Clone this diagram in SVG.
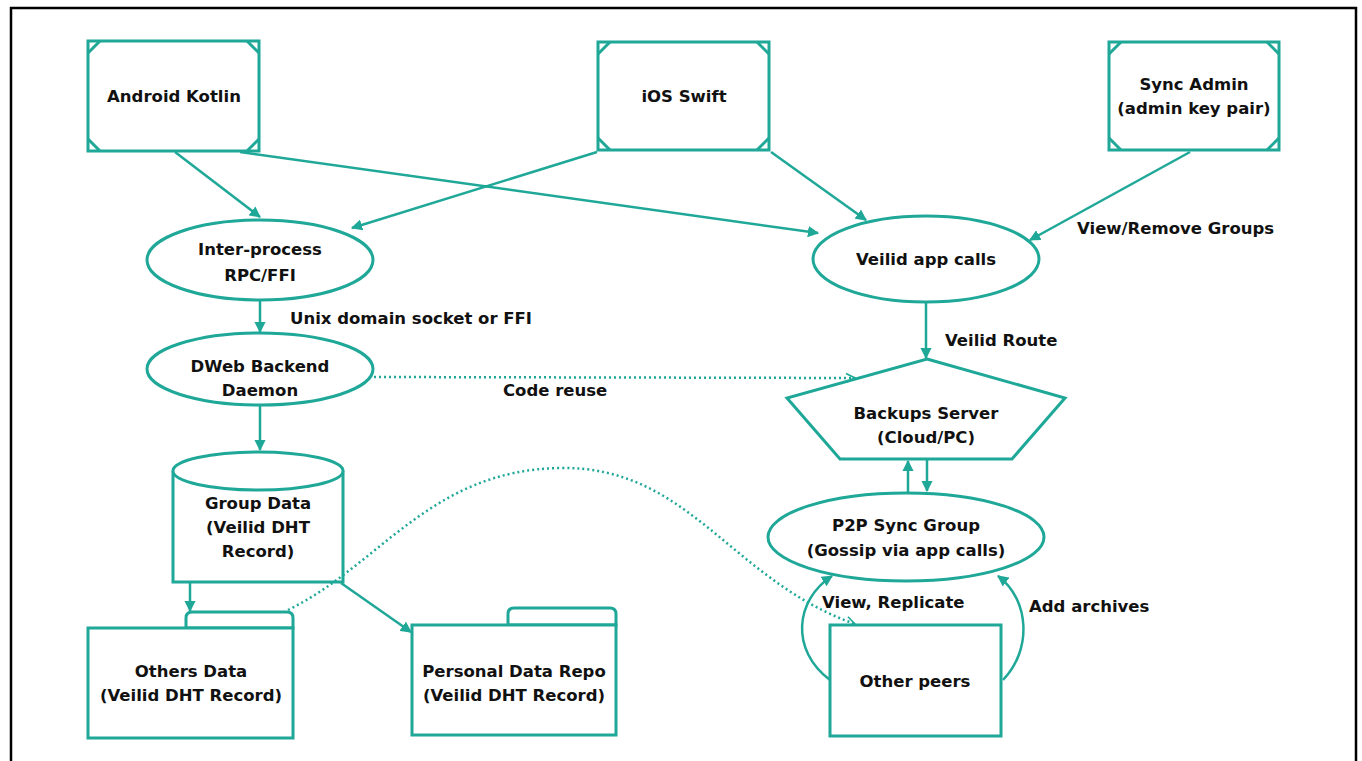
<svg xmlns="http://www.w3.org/2000/svg" width="1362" height="761" viewBox="0 0 1362 761">
<style>
.sh{fill:#fff;stroke:#1fa898;stroke-width:3}
.nt{fill:none;stroke:#1fa898;stroke-width:3}
.t{font-family:"DejaVu Sans","Liberation Sans",sans-serif;font-weight:700;font-size:16.5px;fill:#111;text-anchor:middle}
.l{font-family:"DejaVu Sans","Liberation Sans",sans-serif;font-weight:700;font-size:16.5px;fill:#111}
.c{fill:none;stroke:#1fa898;stroke-width:2.5}
.d{fill:none;stroke:#1fa898;stroke-width:2.5;stroke-dasharray:2 3}
</style>
<defs>
<marker id="a" viewBox="0 0 10 10" refX="9" refY="5" markerWidth="4.5" markerHeight="4.5" orient="auto" markerUnits="strokeWidth">
<path d="M0,0 L10,5 L0,10 z" fill="#1fa898"/>
</marker>
<marker id="o" viewBox="0 0 10 10" refX="9" refY="5" markerWidth="4.5" markerHeight="4.5" orient="auto" markerUnits="strokeWidth">
<path d="M1,1 L9,5 L1,9" fill="none" stroke="#1fa898" stroke-width="1.5"/>
</marker>
</defs>
<rect width="1362" height="761" fill="#fff"/>
<path d="M11,761 V8 H1356 V761" fill="none" stroke="#000" stroke-width="2.5"/>

<g id="android">
<rect class="sh" x="88" y="41" width="171" height="110"/>
<path class="nt" d="M88,53 L100,41 M247,41 L259,53 M88,139 L100,151 M247,151 L259,139"/>
<text class="t" x="174" y="102">Android Kotlin</text>
</g>
<g id="ios">
<rect class="sh" x="598" y="42" width="171" height="108"/>
<path class="nt" d="M598,54 L610,42 M757,42 L769,54 M598,138 L610,150 M757,150 L769,138"/>
<text class="t" x="684" y="102">iOS Swift</text>
</g>
<g id="syncadmin">
<rect class="sh" x="1109" y="42" width="170" height="108"/>
<path class="nt" d="M1109,54 L1121,42 M1267,42 L1279,54 M1109,138 L1121,150 M1267,150 L1279,138"/>
<text class="t" x="1194" y="90">Sync Admin</text>
<text class="t" x="1194" y="114">(admin key pair)</text>
</g>
<g id="interprocess">
<ellipse class="sh" cx="260" cy="260" rx="113" ry="40"/>
<text class="t" x="260" y="255">Inter-process</text>
<text class="t" x="260" y="281">RPC/FFI</text>
</g>
<g id="dweb">
<ellipse class="sh" cx="260" cy="369" rx="113" ry="36"/>
<text class="t" x="260" y="372">DWeb Backend</text>
<text class="t" x="260" y="396">Daemon</text>
</g>
<g id="veilidapp">
<ellipse class="sh" cx="926" cy="259" rx="113" ry="43"/>
<text class="t" x="926" y="265">Veilid app calls</text>
</g>
<g id="backups">
<polygon class="sh" points="927,359 1065,398 1012,459 840,459 787,398"/>
<text class="t" x="926" y="419">Backups Server</text>
<text class="t" x="926" y="443">(Cloud/PC)</text>
</g>
<g id="p2p">
<ellipse class="sh" cx="906" cy="537" rx="138" ry="44"/>
<text class="t" x="906" y="531">P2P Sync Group</text>
<text class="t" x="906" y="556">(Gossip via app calls)</text>
</g>
<g id="otherpeers">
<rect class="sh" x="830" y="625" width="171" height="111"/>
<text class="t" x="915" y="687">Other peers</text>
</g>
<g id="groupdata">
<path class="sh" d="M173,471 V582 H343 V471"/>
<ellipse class="sh" cx="258" cy="471" rx="85" ry="19"/>
<text class="t" x="258" y="509">Group Data</text>
<text class="t" x="258" y="533">(Veilid DHT</text>
<text class="t" x="258" y="557">Record)</text>
</g>
<g id="othersdata">
<path class="sh" d="M186,628 V618 Q186,612 192,612 H287 Q293,612 293,618 V628 Z"/>
<rect class="sh" x="88" y="628" width="205" height="110"/>
<text class="t" x="191" y="677">Others Data</text>
<text class="t" x="191" y="701">(Veilid DHT Record)</text>
</g>
<g id="personaldata">
<path class="sh" d="M508,625 V614 Q508,608 514,608 H610 Q616,608 616,614 V625 Z"/>
<rect class="sh" x="412" y="625" width="204" height="110"/>
<text class="t" x="514" y="677">Personal Data Repo</text>
<text class="t" x="514" y="701">(Veilid DHT Record)</text>
</g>

<g id="connectors">
<path class="c" d="M175,152 L260,217" marker-end="url(#a)"/>
<path class="c" d="M240,152 L818,233" marker-end="url(#a)"/>
<path class="c" d="M597,152 L352,228" marker-end="url(#a)"/>
<path class="c" d="M771,152 L866,220" marker-end="url(#a)"/>
<path class="c" d="M1190,152 L1030,240" marker-end="url(#a)"/>
<path class="c" d="M260,300 L260,332" marker-end="url(#a)"/>
<path class="d" d="M374,377 L855,378" marker-end="url(#o)"/>
<path class="c" d="M926,303 L926,358" marker-end="url(#a)"/>
<path class="c" d="M260,406 L260,450" marker-end="url(#a)"/>
<path class="c" d="M190,583 L190,611" marker-end="url(#a)"/>
<path class="c" d="M341,583 L411,632" marker-end="url(#a)"/>
<path class="d" d="M288,610 C 380,565 430,470 560,468 C 690,466 730,580 855,624" marker-end="url(#o)"/>
<path class="c" d="M908,492 L908,461" marker-end="url(#a)"/>
<path class="c" d="M927,460 L927,491" marker-end="url(#a)"/>
<path class="c" d="M830,680 C 790,650 795,600 832,576" marker-end="url(#a)"/>
<path class="c" d="M1003,680 C 1032,650 1030,600 998,576" marker-end="url(#a)"/>
<text class="l" x="290" y="324">Unix domain socket or FFI</text>
<text class="l" x="503" y="396">Code reuse</text>
<text class="l" x="945" y="346">Veilid Route</text>
<text class="l" x="1077" y="234">View/Remove Groups</text>
<text class="l" x="822" y="608">View, Replicate</text>
<text class="l" x="1029" y="612">Add archives</text>
</g>
</svg>
